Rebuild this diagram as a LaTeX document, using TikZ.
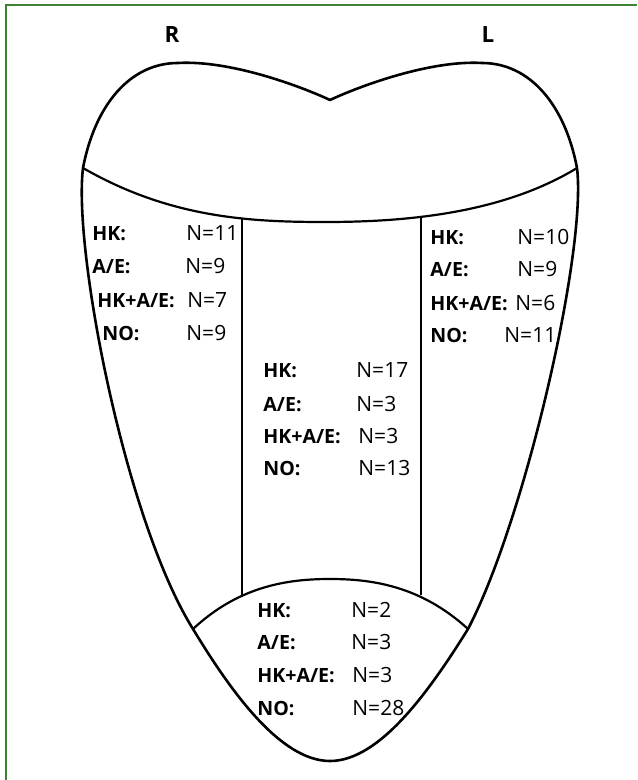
\documentclass[tikz,border=0pt]{standalone}
\usepackage{fontspec}
\setmainfont{Open Sans}
\definecolor{rahmen}{RGB}{62,130,52}
\begin{document}
\begin{tikzpicture}[x=0.5pt, y=-0.5pt,
				kurve/.style={line width=1.3pt, line join=round},
				trenn/.style={line width=1.1pt},
				lab/.style={anchor=base west, inner sep=0pt, font=\bfseries\fontsize{9.8}{11}\selectfont},
				wert/.style={anchor=base west, inner sep=0pt, font=\fontsize{10.5}{12}\selectfont},
				seite/.style={anchor=base, inner sep=0pt, font=\bfseries\fontsize{11.2}{13}\selectfont}]
				\useasboundingbox (0,0) rectangle (637,780);
				% Rahmen
				\draw[rahmen, line width=1pt] (6,780) -- (6,5) -- (637,5);
				% Seiten
				\node[seite] (R) at (172,43) {R};
				\node[seite] (L) at (488,43) {L};
				% Eckpunkte
				\coordinate (ol) at (83,168);
				\coordinate (or) at (577,168);
				\coordinate (ul) at (193,629);
				\coordinate (ur) at (468,629);
				% Umriss
				\draw[kurve] (330,100) .. controls (300,86) and (230,60) .. (178,63)
					.. controls (130,63) and (95,105) .. (ol)
					.. controls (73,250) and (125,520) .. (ul)
					.. controls (230,690) and (280,761) .. (330,761)
					.. controls (380,761) and (430,690) .. (ur)
					.. controls (525,520) and (587,250) .. (or)
					.. controls (565,105) and (530,63) .. (482,63)
					.. controls (430,60) and (360,86) .. cycle;
				% Trennlinien
				\draw[trenn] (ol) .. controls (170,218) and (250,222) .. (325,222)
					.. controls (400,222) and (500,215) .. (or);
				\draw[trenn] (ul) .. controls (240,585) and (290,579) .. (330,579)
					.. controls (370,579) and (420,585) .. (ur);
				\draw[trenn] (242,218) -- (242,595);
				\draw[trenn] (421,216) -- (421,595);
				% Beschriftung rechts (R)
				\foreach \lab/\val/\xl/\xn/\yb [count=\i] in {HK:/N=11/92/186/241, {A/E:}/N=9/92/185/274, {HK+A/E:}/N=7/97/187/307, NO:/N=9/102/186/340}
					{\node[lab] (r\i) at (\xl,\yb) {\lab}; \node[wert] (rn\i) at (\xn,\yb) {\val};}
				% Beschriftung links (L)
				\foreach \lab/\val/\xl/\xn/\yb [count=\i] in {HK:/N=10/430/517/245, {A/E:}/N=9/430/517/277, {HK+A/E:}/N=6/430/515/310, NO:/N=11/430/504/342}
					{\node[lab] (l\i) at (\xl,\yb) {\lab}; \node[wert] (ln\i) at (\xn,\yb) {\val};}
				% Mitte
				\foreach \lab/\val/\xl/\xn/\yb [count=\i] in {HK:/N=17/263/356/377, {A/E:}/N=3/263/356/411, {HK+A/E:}/N=3/263/358/443, NO:/N=13/263/358/475}
					{\node[lab] (m\i) at (\xl,\yb) {\lab}; \node[wert] (mn\i) at (\xn,\yb) {\val};}
				% Spitze
				\foreach \lab/\val/\xl/\xn/\yb [count=\i] in {HK:/N=2/257/351/617, {A/E:}/N=3/257/351/649, {HK+A/E:}/N=3/257/352/682, NO:/N=28/257/352/715}
					{\node[lab] (s\i) at (\xl,\yb) {\lab}; \node[wert] (sn\i) at (\xn,\yb) {\val};}
			\end{tikzpicture}
\end{document}
